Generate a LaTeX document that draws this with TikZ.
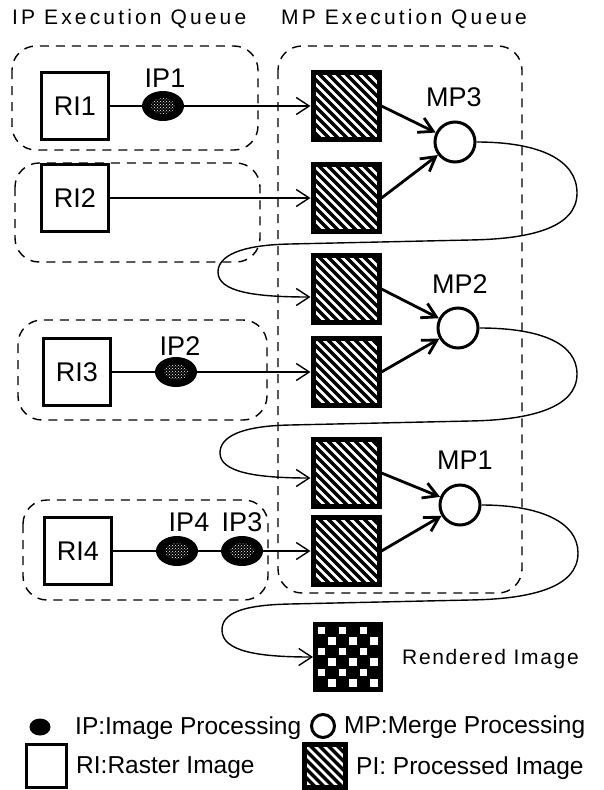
\documentclass[tikz,border=0pt]{standalone}
\usepackage{fontspec}
\setmainfont{Liberation Sans}
\newfontfamily\queuefont[LetterSpace=15]{Liberation Sans}
\newfontfamily\widefont[LetterSpace=8]{Liberation Sans}
\usetikzlibrary{arrows.meta,shapes.geometric,patterns}

\tikzset{
  queue/.style={draw, line width=1.4pt, dash pattern=on 9pt off 7pt, rounded corners=24pt},
  rawbox/.style={draw, fill=white, line width=3pt, minimum size=67pt, inner sep=0pt,
    font=\fontsize{27}{30}\selectfont},
  pibox/.style={draw, fill=black, line width=5pt, minimum width=66pt, minimum height=67pt, inner sep=0pt,
    path picture={\foreach \k in {-90,-81,...,90}
      \draw[white, line width=2.6pt] ([xshift=\k pt]path picture bounding box.north west) -- ++(110pt,-110pt);}},
  ipdot/.style={ellipse, fill=black, minimum width=42pt, minimum height=30pt, inner sep=0pt,
    path picture={\fill[pattern=crosshatch dots, pattern color=white]
      (path picture bounding box.center) ellipse (12pt and 8pt);}},
  mpnode/.style={circle, draw, fill=white, line width=3pt, minimum size=40pt, inner sep=0pt},
  checker/.style={draw, fill=black, line width=3pt, minimum size=67pt, inner sep=0pt,
    path picture={\foreach \r in {0,...,5}
      \foreach \c in {0,...,2} {
        \pgfmathtruncatemacro{\cc}{2*\c+mod(\r,2)}
        \fill[white] ([xshift=\cc*10.5pt+3pt, yshift=-\r*10.5pt-3pt]path picture bounding box.north west)
          rectangle ++(7.5pt,-7.5pt);
      }}},
  lbl/.style={inner sep=0pt, font=\fontsize{27}{30}\selectfont},
  keytext/.style={anchor=west, inner sep=0pt, font=\fontsize{24.5}{28}\selectfont},
  feed/.style={line width=1.4pt, -{Straight Barb[length=13pt,width=17pt]}},
  merge/.style={line width=2.8pt, -{Straight Barb[length=14pt,width=16pt]}},
}

\begin{document}
\begin{tikzpicture}[x=1pt,y=-1pt]
\useasboundingbox (0,0) rectangle (604,790);

% queue titles
\node[anchor=west, inner sep=0pt, font=\queuefont\fontsize{21}{24}\selectfont] (ipqueue) at (12,19) {IP Execution Queue};
\node[anchor=west, inner sep=0pt, font=\queuefont\fontsize{21}{24}\selectfont] (mpqueue) at (281,19) {MP Execution Queue};

% dashed queue frames
\draw[queue] (278,46) rectangle (522,593);
\draw[queue] (12,46) rectangle (258,150);
\draw[queue] (15,163) rectangle (260,262);
\draw[queue] (18,320) rectangle (267,420);
\draw[queue] (23,500) rectangle (268,600);

% raster images
\node[rawbox] (ri1) at (75,106) {RI1};
\node[rawbox] (ri2) at (75,198) {RI2};
\node[rawbox] (ri3) at (77,372) {RI3};
\node[rawbox] (ri4) at (78,551) {RI4};

% image processing
\node[ipdot] (ip1) at (163,106) {};
\node[ipdot] (ip2) at (176,372) {};
\node[ipdot] (ip4) at (177,551) {};
\node[ipdot] (ip3) at (242,551) {};
\node[lbl] (ip1lbl) at (165,78) {IP1};
\node[lbl] (ip2lbl) at (180,346) {IP2};
\node[lbl] (ip4lbl) at (189,522) {IP4};
\node[lbl] (ip3lbl) at (242,522) {IP3};

% processed images
\node[pibox] (pi1) at (346,106) {};
\node[pibox] (pi2) at (346,198) {};
\node[pibox] (pi3) at (346,289) {};
\node[pibox] (pi4) at (346,372) {};
\node[pibox] (pi5) at (346,473) {};
\node[pibox] (pi6) at (346,551) {};

% merge processing
\node[mpnode] (mp3) at (455,142) {};
\node[mpnode] (mp2) at (458,328) {};
\node[mpnode] (mp1) at (460,505) {};
\node[lbl] (mp3lbl) at (454,97) {MP3};
\node[lbl] (mp2lbl) at (460,284) {MP2};
\node[lbl] (mp1lbl) at (465,460) {MP1};

% rendered image
\node[checker] (rendered) at (348,657) {};
\node[anchor=west, inner sep=0pt, font=\widefont\fontsize{21}{24}\selectfont] (renderedlbl) at (402,659) {Rendered Image};

% raster -> processed
\draw[line width=1.4pt] (ri1) -- (ip1);
\draw[feed] (ip1) -- (pi1);
\draw[feed] (ri2) -- (pi2);
\draw[line width=1.4pt] (ri3) -- (ip2);
\draw[feed] (ip2) -- (pi4);
\draw[line width=1.4pt] (ri4) -- (ip4) -- (ip3);
\draw[feed] (ip3) -- (pi6);

% processed -> merge
\draw[merge] (pi1.east) -- (mp3);
\draw[merge] (pi2.east) -- (mp3);
\draw[merge] (pi3.east) -- (mp2);
\draw[merge] (pi4.east) -- (mp2);
\draw[merge] (pi5.east) -- (mp1);
\draw[merge] (pi6.east) -- (mp1);

% merged results fed back into the queue
\draw[feed] (mp3.east) .. controls (540,142) and (577,160) .. (577,193)
  .. controls (577,228) and (530,239) .. (470,240) -- (290,244)
  .. controls (240,245) and (218,256) .. (218,272)
  .. controls (218,292) and (255,297) .. ([yshift=-8pt]pi3.west);
\draw[feed] (mp2.east) .. controls (540,328) and (577,343) .. (577,374)
  .. controls (577,408) and (530,420) .. (470,421) -- (290,425)
  .. controls (240,426) and (220,437) .. (220,453)
  .. controls (220,472) and (255,478) .. ([yshift=-5pt]pi5.west);
\draw[feed] (mp1.east) .. controls (540,505) and (578,522) .. (578,553)
  .. controls (578,588) and (530,599) .. (470,600) -- (290,604)
  .. controls (240,605) and (222,614) .. (222,630)
  .. controls (222,652) and (260,657) .. (rendered.west);

% legend
\node[ellipse, fill=black, minimum width=21pt, minimum height=17pt, inner sep=0pt] (keyip) at (40,727) {};
\node[keytext] (keyiptxt) at (75,728) {IP:Image Processing};
\node[circle, draw, line width=3pt, minimum size=23pt, inner sep=0pt] (keymp) at (323,726) {};
\node[keytext] (keymptxt) at (344,727) {MP:Merge Processing};
\node[draw, line width=3pt, minimum width=40pt, minimum height=43pt, inner sep=0pt] (keyri) at (46,766) {};
\node[keytext] (keyritxt) at (76,768) {RI:Raster Image};
\node[pibox, minimum width=41pt, minimum height=43pt] (keypi) at (325,766) {};
\node[keytext] (keypitxt) at (356,768) {PI: Processed Image};
\end{tikzpicture}
\end{document}
